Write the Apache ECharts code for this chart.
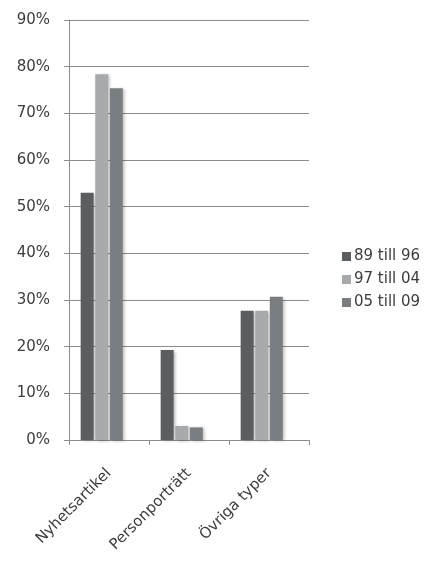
<!DOCTYPE html>
<html><head><meta charset="utf-8">
<script src="https://cdn.jsdelivr.net/npm/echarts@6/dist/echarts.min.js"></script>
<style>html,body{margin:0;padding:0;background:#fff}#c{width:432px;height:562px}</style>
</head><body><div id="c"></div>
<script>
var categories = ['Nyhetsartikel', 'Personporträtt', 'Övriga typer'];
var seriesNames = ['89 till 96', '97 till 04', '05 till 09'];
var s1 = [53.0, 19.3, 27.7];
var s2 = [78.4, 3.0, 27.7];
var s3 = [75.4, 2.7, 30.7];
var yMax = 90, yStep = 10;
var colors = ['#5a5e61', '#a7aaac', '#7b7e81'];

var chart = echarts.init(document.getElementById('c'), null, {renderer: 'canvas'});
var font = 'DejaVu Sans';
var txt = '#3c3c3c';
function bar(name, data, color) {
  return {
    name: name, type: 'bar', data: data, barWidth: 13, barGap: '12%',
    itemStyle: {color: color, shadowColor: 'rgba(0,0,0,0.25)', shadowBlur: 3, shadowOffsetX: 2, shadowOffsetY: 1}
  };
}
chart.setOption({
  animation: false,
  textStyle: {fontFamily: font},
  grid: {left: 69, right: 123, top: 20, bottom: 122, containLabel: false},
  legend: {
    data: seriesNames, orient: 'vertical', left: 342, top: 249, padding: 0,
    itemWidth: 9, itemHeight: 9, itemGap: 8, icon: 'rect',
    textStyle: {fontSize: 15, lineHeight: 15, color: txt, fontFamily: font, padding: [0, 0, 0, -2]}
  },
  xAxis: {
    type: 'category', data: categories,
    axisLine: {lineStyle: {color: '#8c8c8c', width: 1}},
    axisTick: {show: true, length: 5, lineStyle: {color: '#8c8c8c'}, alignWithLabel: false},
    axisLabel: {rotate: 45, fontSize: 15, color: txt, margin: 31, interval: 0}
  },
  yAxis: {
    type: 'value', min: 0, max: yMax, interval: yStep,
    axisLine: {show: true, lineStyle: {color: '#8c8c8c'}},
    axisTick: {show: true, length: 5, lineStyle: {color: '#8c8c8c'}},
    splitLine: {lineStyle: {color: '#8c8c8c', width: 1}},
    axisLabel: {formatter: '{value}%', fontSize: 15, color: txt, margin: 19}
  },
  series: [
    bar(seriesNames[0], s1, colors[0]),
    bar(seriesNames[1], s2, colors[1]),
    bar(seriesNames[2], s3, colors[2]),
    {name: 'spacer', type: 'bar', data: [0, 0, 0], barWidth: 13, itemStyle: {color: 'rgba(0,0,0,0)'}, silent: true}
  ]
});
</script></body></html>
